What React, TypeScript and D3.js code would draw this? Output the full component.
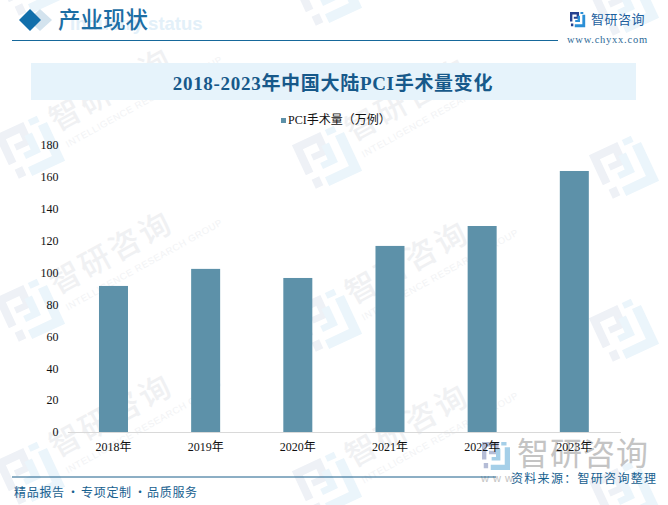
import { axisBottom, axisLeft, scaleBand, scaleLinear, select } from "d3";
import { useEffect, useRef } from "react";

const years = ["2018年", "2019年", "2020年", "2021年", "2022年", "2023年"];
const surgeries = [91.6, 102.3, 96.6, 116.7, 129.2, 163.7];
const yTicks = [0, 20, 40, 60, 80, 100, 120, 140, 160, 180];
const logoColumns = [0, 1, 2];
const logoRows = [-1, 0, 1, 2];
const wordColumns = [0, 1];
const wordRows = [0, 1, 2];

const width = 668;
const height = 505;
const plotLeft = 67.4;
const plotRight = 620.4;
const plotTop = 145;
const plotBottom = 432;

const cjk = "'Noto Sans CJK SC', sans-serif";
const serif = "'Liberation Serif', serif";
const deep = "#17608f";

function LogoMark({ dark, light }: { dark: string; light: string }) {
  // the mark is drawn on a 16 unit square
  return (
    <g>
      <path d="M0 0H9.5V7H4V5H7V2.5H2.5V10H0Z M1 12H3.5V15H1Z" fill={dark} />
      <path d="M11 0H14V2H11Z M13 3H16V16H5V13H13Z M8 4H10.5V10.5H5.5V8.5H8Z" fill={light} />
    </g>
  );
}

function WatermarkLogo({ col, row }: { col: number; row: number }) {
  const cx = 30 + col * 297;
  const cy = 148 + col * 10 + row * 163;
  return (
    <g transform={`translate(${cx},${cy}) rotate(-25) scale(3.3) translate(-8,-8)`}>
      <LogoMark dark="#eef1f6" light="#ebf5fb" />
    </g>
  );
}

function WatermarkWords({ col, row }: { col: number; row: number }) {
  const tx = 57 + col * 296;
  const ty = 132 + col * 10 + row * 163;
  return (
    <g transform={`translate(${tx},${ty}) rotate(-29)`}>
      <text fontFamily={cjk} fontSize={31} letterSpacing={3} fontWeight={500} fill="#f0f1f3">
        智研咨询
      </text>
      <text x={2} y={19} fontFamily="'Liberation Sans', sans-serif" fontSize={9.5} letterSpacing={0.6} fill="#f2f3f5">
        INTELLIGENCE RESEARCH GROUP
      </text>
    </g>
  );
}

export default function App() {
  const xAxisRef = useRef<SVGGElement>(null);
  const yAxisRef = useRef<SVGGElement>(null);

  const x = scaleBand<string>().domain(years).range([plotLeft, plotRight]);
  const y = scaleLinear().domain([0, 180]).range([plotBottom, plotTop]);
  const barWidth = 29;

  useEffect(() => {
    const xAxis = select(xAxisRef.current!).call(axisBottom(x).tickSize(0).tickPadding(10));
    xAxis.select(".domain").attr("stroke", "#d9d9d9");
    xAxis.selectAll("text").attr("font-size", 12).attr("fill", "#111").attr("font-family", `${serif}, ${cjk}`);

    const yAxis = select(yAxisRef.current!).call(
      axisLeft(y).tickValues(yTicks).tickSize(0).tickPadding(9),
    );
    yAxis.select(".domain").remove();
    yAxis.selectAll("text").attr("font-size", 12).attr("fill", "#111").attr("font-family", serif);
  }, []);

  return (
    <svg
      width={width}
      height={height}
      viewBox={`0 0 ${width} ${height}`}
      style={{ position: "absolute", left: 0, top: 0, background: "#fff" }}
    >
      {logoRows.map((row) =>
        logoColumns.map((col) => <WatermarkLogo key={`${col}-${row}`} col={col} row={row} />),
      )}
      {wordRows.map((row) =>
        wordColumns.map((col) => <WatermarkWords key={`${col}-${row}`} col={col} row={row} />),
      )}

      {/* header */}
      <path d="M40 9L52 20L40 31L28 20Z" fill="#d3e3ee" />
      <path d="M30 9L41 20L30 31L19 20Z" fill="#126fab" />
      <text x={70} y={30} fontFamily="'Liberation Sans', sans-serif" fontWeight={700} fontSize={18.5} fill="#e3f0f9">
        Industry status
      </text>
      <text x={58} y={28} fontFamily={cjk} fontSize={22.5} fontWeight={500} fill="#1c6ea4">
        产业现状
      </text>
      <line x1={12} x2={558} y1={40.5} y2={40.5} stroke="#16689b" strokeWidth={1.2} />
      <g transform="translate(570,12) scale(0.95)">
        <LogoMark dark="#24408f" light="#2b8fd6" />
      </g>
      <text x={591} y={24} fontFamily={cjk} fontSize={13} letterSpacing={0.5} fill="#1d5f9e">
        智研咨询
      </text>
      <text x={567} y={42.5} fontFamily={serif} fontSize={10.5} letterSpacing={0.75} fill="#2d6a97">
        www.chyxx.com
      </text>

      {/* title band */}
      <rect x={31} y={63} width={605} height={37} fill="#e6f3fb" />
      <text x={333} y={90} textAnchor="middle" fontFamily={`${serif}, ${cjk}`} fontSize={19} letterSpacing={0.7} fontWeight={700} fill="#17598a">
        2018-2023年中国大陆PCI手术量变化
      </text>

      {/* legend */}
      <rect x={281} y={118} width={5} height={5} fill="#5d91a9" />
      <text x={288} y={124} fontFamily={`${serif}, ${cjk}`} fontSize={12} fill="#111">
        PCI手术量（万例）
      </text>

      {/* source stamp sits under the axis labels */}
      <g transform="translate(482,442) scale(1.75)">
        <LogoMark dark="#b4bcd6" light="#a5cfe8" />
      </g>
      <text x={517} y={465} fontFamily={cjk} fontSize={32} letterSpacing={1} fill="#c4c4c4">
        智研咨询
      </text>
      <text x={481} y={482} fontFamily="'Liberation Sans', sans-serif" fontSize={11} letterSpacing={4} fill="#c4c4c4">
        www
      </text>

      {/* bars */}
      {surgeries.map((value, i) => (
        <rect
          key={years[i]}
          x={x(years[i])! + (x.bandwidth() - barWidth) / 2}
          y={y(value)}
          width={barWidth}
          height={plotBottom - y(value)}
          fill="#5d91a9"
        />
      ))}
      <g ref={xAxisRef} transform={`translate(0,${plotBottom})`} />
      <g ref={yAxisRef} transform={`translate(${plotLeft},0)`} />

      {/* footer */}
      <line x1={12} x2={496} y1={477} y2={477} stroke="#1a5f8a" strokeWidth={1} />
      <text y={497} fontFamily={cjk} fontSize={12} letterSpacing={0.7} fill={deep}>
        <tspan x={14}>精品报告</tspan>
        <tspan x={67}>·</tspan>
        <tspan x={81}>专项定制</tspan>
        <tspan x={134}>·</tspan>
        <tspan x={147}>品质服务</tspan>
      </text>
      <text x={511} y={483} fontFamily={cjk} fontSize={12} letterSpacing={1.3} fill={deep}>
        资料来源：智研咨询整理
      </text>
    </svg>
  );
}
